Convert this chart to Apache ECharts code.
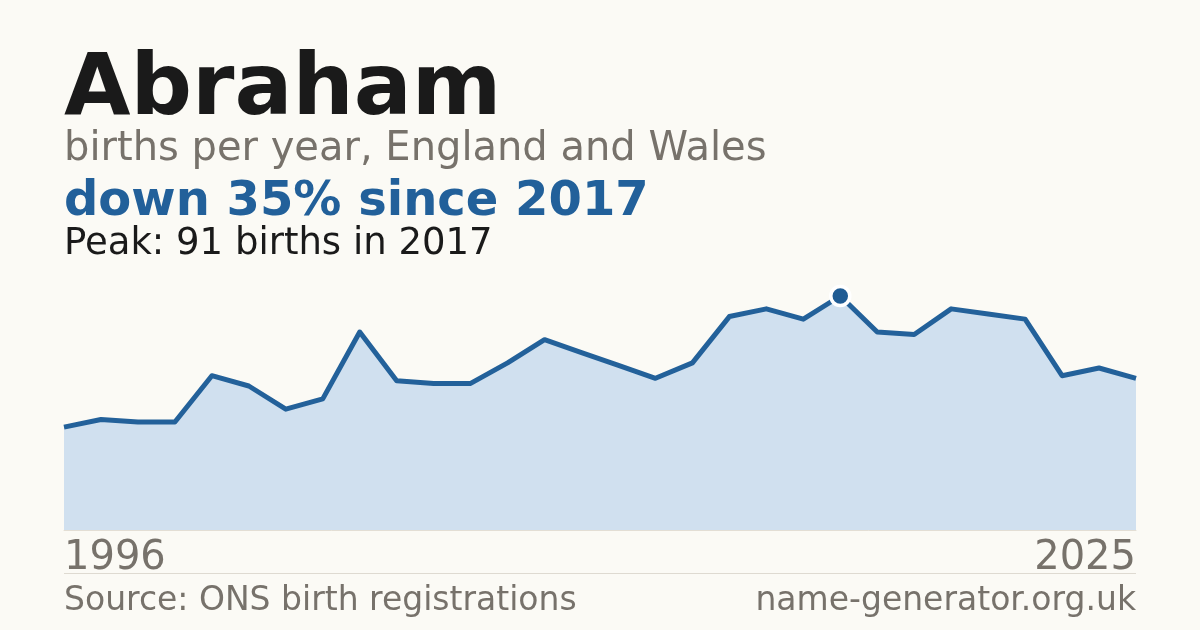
<!DOCTYPE html>
<html>
<head>
<meta charset="utf-8">
<script src="https://cdn.jsdelivr.net/npm/echarts@6/dist/echarts.min.js"></script>
<style>
  html, body { margin: 0; padding: 0; background: #fbfaf5; }
  #chart { width: 1200px; height: 630px; }
</style>
</head>
<body>
<div id="chart"></div>
<script>
var years = ['1996', '1997', '1998', '1999', '2000', '2001', '2002', '2003', '2004', '2005',
             '2006', '2007', '2008', '2009', '2010', '2011', '2012', '2013', '2014', '2015',
             '2016', '2017', '2018', '2019', '2020', '2021', '2022', '2023', '2024', '2025'];
var births = [40, 43, 42, 42, 60, 56, 47, 51, 77, 58,
              57, 57, 65, 74, 69, 64, 59, 65, 83, 86,
              82, 91, 77, 76, 86, 84, 82, 60, 63, 59];
var tickLabels = ['1996', '2025'];

var peakValue = Math.max.apply(null, births);
var peakIndex = births.indexOf(peakValue);

var font = 'DejaVu Sans';
var chart = echarts.init(document.getElementById('chart'));

// graphic text is placed by its top edge; baseline sits about 0.75em lower
function textAt(str, x, baseline, size, weight, color, align) {
  return {
    type: 'text',
    position: [x, 0],
    style: {
      text: str,
      x: 0,
      y: Math.round(baseline - size * 0.75),
      fill: color,
      font: weight + ' ' + size + 'px "' + font + '"',
      align: align || 'left',
      verticalAlign: 'top'
    }
  };
}

var option = {
  backgroundColor: '#fbfaf5',
  animation: false,
  grid: {
    left: 64,
    right: 64,
    top: 296,
    bottom: 100
  },
  xAxis: {
    type: 'category',
    data: years,
    boundaryGap: false,
    axisLine: { show: true, lineStyle: { color: '#e3ded4', width: 1 } },
    axisTick: { show: false },
    splitLine: { show: false },
    axisLabel: {
      interval: function (i, v) { return tickLabels.indexOf(v) >= 0; },
      alignMinLabel: 'left',
      alignMaxLabel: 'right',
      margin: 9,
      color: '#77726b',
      fontFamily: font,
      fontSize: 40
    }
  },
  yAxis: {
    type: 'value',
    min: 0,
    max: peakValue,
    show: false,
    splitLine: { show: false }
  },
  series: [
    {
      type: 'line',
      data: births,
      symbol: 'none',
      clip: false,
      lineStyle: { color: '#23619a', width: 5, join: 'round' },
      areaStyle: { color: '#d0e0ef', opacity: 1 }
    },
    {
      type: 'scatter',
      data: [[peakIndex, peakValue]],
      symbol: 'circle',
      symbolSize: 19,
      clip: false,
      itemStyle: { color: '#1f5b93', borderColor: '#ffffff', borderWidth: 3.5, opacity: 1 },
      z: 5
    }
  ],
  graphic: [
    textAt('Abraham', 64, 113, 86, 'bold', '#1a1a1a'),
    textAt('births per year, England and Wales', 64, 160, 40, 'normal', '#77726b'),
    textAt('down 35% since 2017', 64, 215, 48, 'bold', '#22609a'),
    textAt('Peak: ' + peakValue + ' births in ' + years[peakIndex], 64, 254, 37, 'normal', '#1a1a1a'),
    {
      type: 'line',
      shape: { x1: 64, y1: 573.5, x2: 1136, y2: 573.5 },
      style: { stroke: '#dedad1', lineWidth: 1 }
    },
    textAt('Source: ONS birth registrations', 64, 610, 33, 'normal', '#77726b'),
    textAt('name-generator.org.uk', 1136, 610, 33, 'normal', '#77726b', 'right')
  ]
};

chart.setOption(option);
</script>
</body>
</html>
